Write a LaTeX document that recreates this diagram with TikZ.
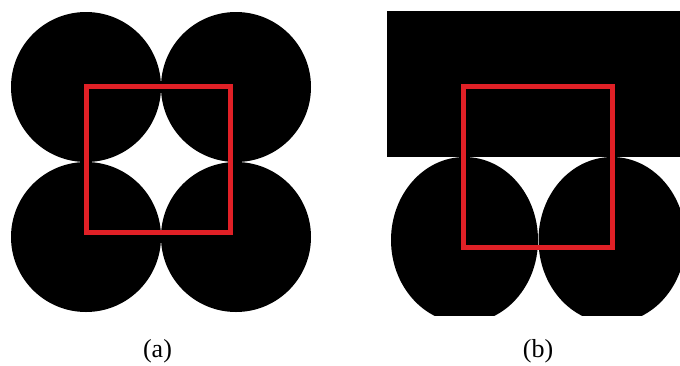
\documentclass[tikz,border=0pt]{standalone}
\usepackage{fontspec}
\setmainfont{Liberation Serif}
\usetikzlibrary{positioning}
\definecolor{framered}{RGB}{224,32,38}

\begin{document}
\begin{tikzpicture}[
  x=1pt, y=-1pt,
  font=\fontsize{26}{30}\selectfont,
  blob/.style={fill=black},
  frame/.style={draw=framered, line width=5pt},
  caption/.style={inner sep=0pt, anchor=center}
]
\useasboundingbox (0,0) rectangle (680,365);

\fill[blob] (86,87)  circle[radius=75];
\fill[blob] (236,87) circle[radius=75];
\fill[blob] (86,237) circle[radius=75];
\fill[blob] (236,237) circle[radius=75];
\draw[frame] (86.5,86.5) rectangle (230.5,232);

\begin{scope}
  \clip (380,0) rectangle (680,315);
  \fill[blob] (387,11) rectangle (680,157);
  \fill[blob] (464.5,240) ellipse[x radius=73.5, y radius=83];
  \fill[blob] (612,240) ellipse[x radius=73.5, y radius=83];
\end{scope}
\draw[frame] (463,86) rectangle (612.5,247);

\node[caption] (capa) at (157.5,351) {(a)};
\node[caption] (capb) at (538,351)   {(b)};
\end{tikzpicture}
\end{document}
